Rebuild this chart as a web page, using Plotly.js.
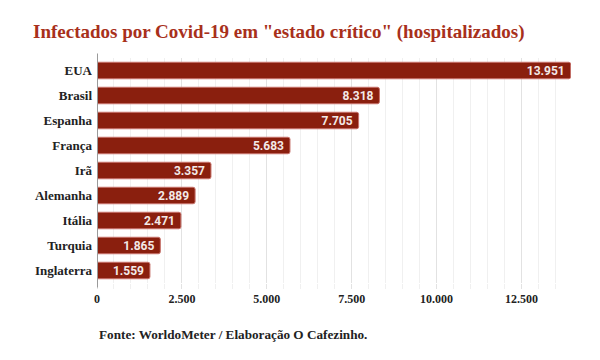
<!DOCTYPE html>
<html>
<head>
<meta charset="utf-8">
<script src="https://cdn.plot.ly/plotly-3.0.1.min.js"></script>
<style>html,body{margin:0;padding:0;background:#fff;}#chart{width:600px;height:360px;}</style>
</head>
<body>
<div id="chart"></div>
<script>
const countries = ["EUA", "Brasil", "Espanha", "França", "Irã", "Alemanha", "Itália", "Turquia", "Inglaterra"];
const critical = [13951, 8318, 7705, 5683, 3357, 2889, 2471, 1865, 1559];
const tickValues = [0, 2500, 5000, 7500, 10000, 12500];
const tickLabels = ["0", "2.500", "5.000", "7.500", "10.000", "12.500"];
const titleText = 'Infectados por Covid-19 em "estado crítico" (hospitalizados)';
const sourceText = "Fonte: WorldoMeter / Elaboração O Cafezinho.";

const serif = "Liberation Serif, Times New Roman, serif";

const trace = {
  type: "bar",
  orientation: "h",
  y: countries,
  x: critical,
  marker: {color: "#8a1f0e", line: {color: "#c7716a", width: 1}},
  text: critical.map(v => v.toLocaleString("de-DE") + "\u00a0"),
  textposition: "inside",
  insidetextanchor: "end",
  constraintext: "none",
  textfont: {family: "Roboto, Liberation Sans, sans-serif", size: 12, color: "#f3e9e7", weight: "bold"},
  cliponaxis: false,
  hoverinfo: "none"
};

const layout = {
  width: 600, height: 360,
  margin: {l: 97, r: 29, t: 58, b: 77},
  paper_bgcolor: "#fff", plot_bgcolor: "#fff",
  separators: ",.",
  bargap: 0.34,
  barcornerradius: 2,
  showlegend: false,
  title: {
    text: titleText,
    font: {family: serif, size: 19, color: "#a8301b", weight: "bold"},
    x: 33 / 600, xref: "container", xanchor: "left",
    y: 1 - 31.5 / 360, yref: "container", yanchor: "middle"
  },
  xaxis: {
    range: [0, 13960],
    tickvals: tickValues,
    ticktext: tickLabels,
    tickfont: {family: serif, size: 12, color: "#222", weight: "bold"},
    showgrid: true,
    gridcolor: "#e2e2e2",
    gridwidth: 1,
    minor: {dtick: 500, showgrid: true, gridcolor: "#f0f0f0", gridwidth: 1, ticks: "outside", ticklen: 5, tickcolor: "#f0f0f0"},
    ticks: "outside", ticklen: 5, tickcolor: "#e2e2e2",
    zeroline: false,
    showline: false,
    fixedrange: true
  },
  yaxis: {
    autorange: "reversed",
    tickfont: {family: serif, size: 13, color: "#222", weight: "bold"},
    ticks: "", ticklabelstandoff: 4,
    showgrid: false, zeroline: false, showline: false,
    fixedrange: true
  },
  shapes: [{
    type: "line", xref: "x", yref: "paper", x0: 0, x1: 0, y0: -0.02, y1: 1.02,
    line: {color: "#9a9a9a", width: 2}
  }],
  annotations: [{
    text: sourceText, xref: "paper", yref: "paper", x: 0, y: -0.231,
    xanchor: "left", yanchor: "middle", showarrow: false,
    font: {family: serif, size: 13.2, color: "#222", weight: "bold"}
  }]
};

Plotly.newPlot("chart", [trace], layout, {displayModeBar: false, staticPlot: true});
</script>
</body>
</html>
